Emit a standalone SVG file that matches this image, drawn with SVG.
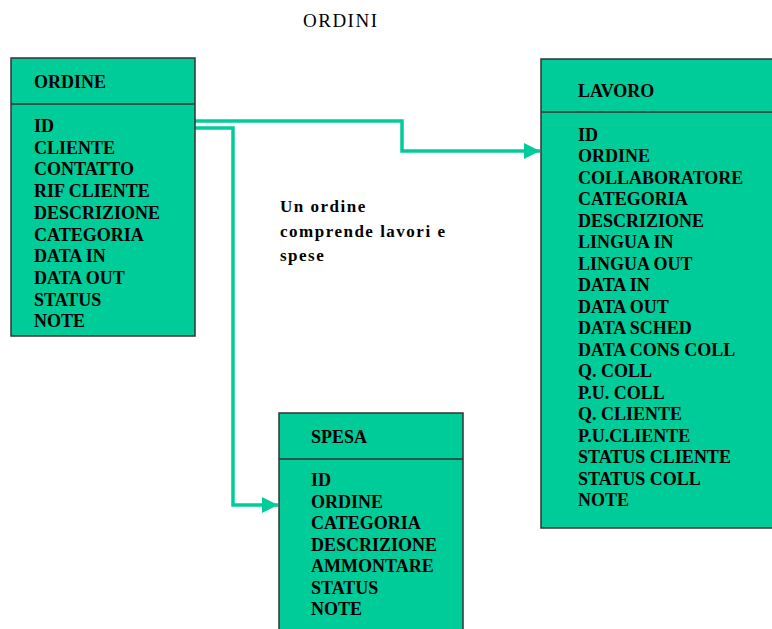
<svg xmlns="http://www.w3.org/2000/svg" width="772" height="629" viewBox="0 0 772 629">
<style>
.box{fill:#00cc99;stroke:#333;stroke-width:1.5}
.div{stroke:#333;stroke-width:1.5}
.t{font-family:"Liberation Serif","Times New Roman",serif;font-weight:bold;font-size:18px;fill:#000}
.note{font-family:"Liberation Serif","Times New Roman",serif;font-weight:bold;font-size:17px;letter-spacing:1.5px;fill:#000}
.title{font-family:"Liberation Serif","Times New Roman",serif;font-size:19px;letter-spacing:1.5px;fill:#000}
.conn{fill:none;stroke:#00cc99;stroke-width:3.5}
</style>
<defs>
<marker id="arr" viewBox="0 0 10 10" refX="10" refY="5" markerWidth="18" markerHeight="16" markerUnits="userSpaceOnUse" orient="auto">
<path d="M0,0 L10,5 L0,10 Z" fill="#00cc99"/>
</marker>
</defs>
<rect width="772" height="629" fill="#fff"/>
<text class="title" x="303" y="27">ORDINI</text>
<g id="connectors">
<path class="conn" d="M195,121 H402 V151 H540" marker-end="url(#arr)"/>
<path class="conn" d="M195,128 H233 V505 H278" marker-end="url(#arr)"/>
</g>
<g id="ordine">
<rect class="box" x="11" y="58" width="184" height="278"/>
<line class="div" x1="11" y1="104" x2="195" y2="104"/>
<text class="t" x="34" y="88">ORDINE</text>
<text class="t" x="34" y="132">ID</text>
<text class="t" x="34" y="153.7">CLIENTE</text>
<text class="t" x="34" y="175.4">CONTATTO</text>
<text class="t" x="34" y="197.1">RIF CLIENTE</text>
<text class="t" x="34" y="218.8">DESCRIZIONE</text>
<text class="t" x="34" y="240.5">CATEGORIA</text>
<text class="t" x="34" y="262.2">DATA IN</text>
<text class="t" x="34" y="283.9">DATA OUT</text>
<text class="t" x="34" y="305.6">STATUS</text>
<text class="t" x="34" y="327.3">NOTE</text>
</g>
<g id="lavoro">
<rect class="box" x="541" y="59" width="250" height="469"/>
<line class="div" x1="541" y1="112" x2="791" y2="112"/>
<text class="t" x="578" y="97">LAVORO</text>
<text class="t" x="578" y="140.7">ID</text>
<text class="t" x="578" y="162.2">ORDINE</text>
<text class="t" x="578" y="183.7">COLLABORATORE</text>
<text class="t" x="578" y="205.2">CATEGORIA</text>
<text class="t" x="578" y="226.7">DESCRIZIONE</text>
<text class="t" x="578" y="248.2">LINGUA IN</text>
<text class="t" x="578" y="269.7">LINGUA OUT</text>
<text class="t" x="578" y="291.2">DATA IN</text>
<text class="t" x="578" y="312.7">DATA OUT</text>
<text class="t" x="578" y="334.2">DATA SCHED</text>
<text class="t" x="578" y="355.7">DATA CONS COLL</text>
<text class="t" x="578" y="377.2">Q. COLL</text>
<text class="t" x="578" y="398.7">P.U. COLL</text>
<text class="t" x="578" y="420.2">Q. CLIENTE</text>
<text class="t" x="578" y="441.7">P.U.CLIENTE</text>
<text class="t" x="578" y="463.2">STATUS CLIENTE</text>
<text class="t" x="578" y="484.7">STATUS COLL</text>
<text class="t" x="578" y="506.2">NOTE</text>
</g>
<g id="spesa">
<rect class="box" x="279" y="413" width="184" height="230"/>
<line class="div" x1="279" y1="459" x2="463" y2="459"/>
<text class="t" x="311" y="443">SPESA</text>
<text class="t" x="311" y="486">ID</text>
<text class="t" x="311" y="507.5">ORDINE</text>
<text class="t" x="311" y="529">CATEGORIA</text>
<text class="t" x="311" y="550.5">DESCRIZIONE</text>
<text class="t" x="311" y="572">AMMONTARE</text>
<text class="t" x="311" y="593.5">STATUS</text>
<text class="t" x="311" y="615">NOTE</text>
</g>
<g id="label">
<text class="note" x="280" y="212">Un ordine</text>
<text class="note" x="280" y="237">comprende lavori e</text>
<text class="note" x="280" y="261">spese</text>
</g>
</svg>
